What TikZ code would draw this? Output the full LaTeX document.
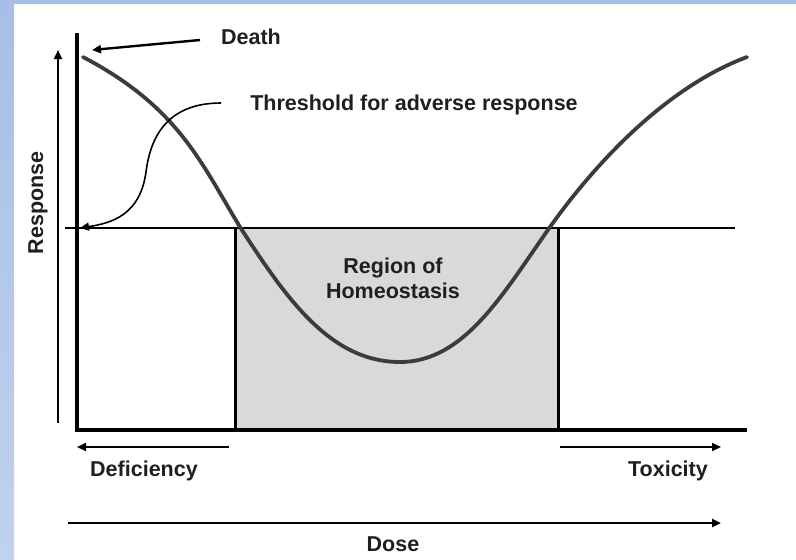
\documentclass[tikz,border=0pt]{standalone}
\usepackage{fontspec}
\setmainfont{Liberation Sans}
\usetikzlibrary{arrows.meta}
\definecolor{frameblueA}{HTML}{A6BFE8}
\definecolor{frameblueB}{HTML}{C0D2EE}
\definecolor{regiongray}{HTML}{D9D9D9}
\definecolor{curvegray}{HTML}{3C3C3C}
\begin{document}
\begin{tikzpicture}[x=1pt,y=-1pt,
  lbl/.style={font=\bfseries\fontsize{21.5}{25}\selectfont, text=black!88, inner sep=0pt},
  axisline/.style={line width=3.8pt, black},
  thinline/.style={line width=1.4pt, black},
  curveline/.style={line width=3.8pt, curvegray, line cap=round},
  arr/.style={line width=2pt, -{Triangle[length=9pt,width=8pt]}},
]
\useasboundingbox (0,0) rectangle (796,560);
% frame
\shade[top color=frameblueA, bottom color=frameblueB] (0,0) rectangle (14,560);
\fill[frameblueA] (14,0) rectangle (796,4);
% region
\fill[regiongray] (235,228) rectangle (558,430);
\draw[line width=3pt] (235,430) -- (235,228);
\draw[line width=3pt] (558,430) -- (558,228);
% threshold line
\draw[thinline] (65,228) -- (735,228);
\draw[line width=2.4pt] (235,228) -- (558,228);
% axes
\coordinate (ytop) at (77,33);
\coordinate (origin) at (77,430);
\coordinate (xend) at (747,430);
\draw[axisline] (ytop) -- (origin) -- (xend);
% response arrow
\coordinate (rbot) at (58,423);
\coordinate (rtop) at (58,50);
\draw[arr, line width=2.2pt] (rbot) -- (rtop);
\node[lbl, rotate=90] (response) at (38,203) {Response};
% curve
\draw[curveline] (83,57) .. controls (178,107) and (200,161) .. (240,227)
  .. controls (286,298) and (330,362) .. (400,362)
  .. controls (465,362) and (504,292) .. (550,227)
  .. controls (602,154) and (672,85) .. (747,57);
% labels
\node[lbl] (death) at (251,37) {Death};
\node[lbl] (thresh) at (414,105) {Threshold for adverse response};
\node[lbl, align=center] (region) at (393,278) {Region of\\Homeostasis};
% death arrow
\coordinate (dstart) at (200,40);
\coordinate (dtip) at (92,50);
\draw[arr, line width=2.4pt] (dstart) -- (dtip);
% threshold arrow
\coordinate (tstart) at (221,103);
\coordinate (ttip) at (80,228);
\draw[line width=1.6pt, -{Triangle[length=9pt,width=8pt]}] (tstart) .. controls (165,103) and (150,140) .. (146,172) .. controls (140,215) and (112,223) .. (ttip);
% deficiency / toxicity
\coordinate (defs) at (229,447);
\coordinate (defe) at (77,447);
\draw[arr] (defs) -- (defe);
\node[lbl] (defic) at (144,471) {Deficiency};
\coordinate (toxs) at (560,447);
\coordinate (toxe) at (721,447);
\draw[arr] (toxs) -- (toxe);
\node[lbl] (toxic) at (668,471) {Toxicity};
% dose
\coordinate (doses) at (68,523);
\coordinate (dosee) at (721,523);
\draw[arr, line width=2.4pt] (doses) -- (dosee);
\node[lbl] (dose) at (393,544) {Dose};
\end{tikzpicture}
\end{document}
